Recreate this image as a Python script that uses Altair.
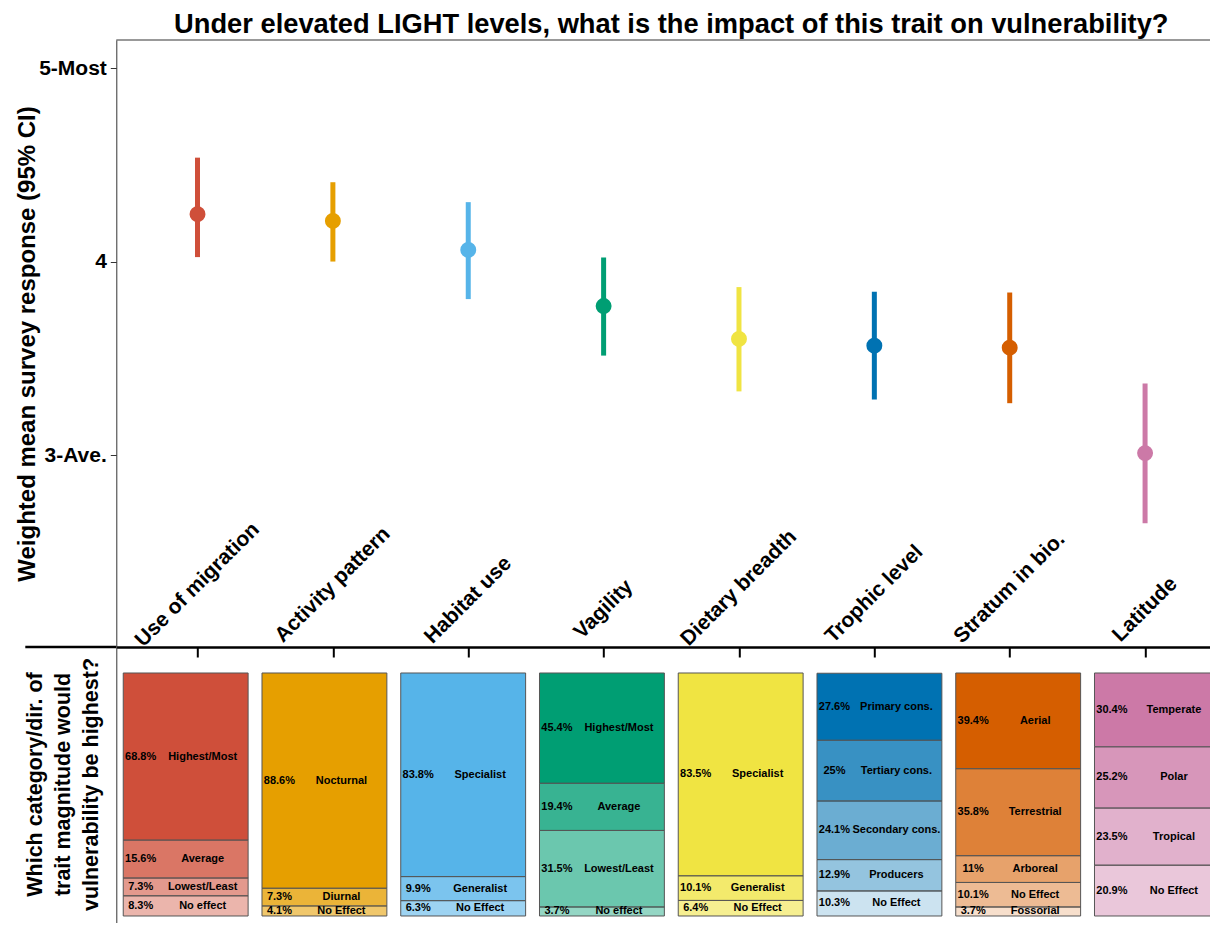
import altair as alt
import pandas as pd

FONT = "Liberation Sans"

# ---------------- data ----------------
traits = ["Use of migration", "Activity pattern", "Habitat use", "Vagility",
          "Dietary breadth", "Trophic level", "Stratum in bio.", "Latitude"]
trait_colors = ["#CF4F3A", "#E69F00", "#56B4E9", "#009E73",
                "#F0E442", "#0072B2", "#D55E00", "#CC79A7"]
mean_resp = [4.245, 4.21, 4.06, 3.77, 3.60, 3.565, 3.555, 3.01]
ci_low = [4.023, 4.00, 3.806, 3.514, 3.329, 3.287, 3.268, 2.648]
ci_high = [4.537, 4.41, 4.307, 4.021, 3.868, 3.844, 3.84, 3.37]

ytick_values = [3, 4, 5]
ytick_labels = ["3-Ave.", "4", "5-Most"]

# categories listed from top of bar to bottom
cat_migration = ["Highest/Most", "Average", "Lowest/Least", "No effect"]
pct_migration = [68.8, 15.6, 7.3, 8.3]
cat_activity = ["Nocturnal", "Diurnal", "No Effect"]
pct_activity = [88.6, 7.3, 4.1]
cat_habitat = ["Specialist", "Generalist", "No Effect"]
pct_habitat = [83.8, 9.9, 6.3]
cat_vagility = ["Highest/Most", "Average", "Lowest/Least", "No effect"]
pct_vagility = [45.4, 19.4, 31.5, 3.7]
cat_diet = ["Specialist", "Generalist", "No Effect"]
pct_diet = [83.5, 10.1, 6.4]
cat_trophic = ["Primary cons.", "Tertiary cons.", "Secondary cons.", "Producers", "No Effect"]
pct_trophic = [27.6, 25, 24.1, 12.9, 10.3]
cat_stratum = ["Aerial", "Terrestrial", "Arboreal", "No Effect", "Fossorial"]
pct_stratum = [39.4, 35.8, 11, 10.1, 3.7]
cat_latitude = ["Temperate", "Polar", "Tropical", "No Effect"]
pct_latitude = [30.4, 25.2, 23.5, 20.9]

all_cats = [cat_migration, cat_activity, cat_habitat, cat_vagility,
            cat_diet, cat_trophic, cat_stratum, cat_latitude]
all_pcts = [pct_migration, pct_activity, pct_habitat, pct_vagility,
            pct_diet, pct_trophic, pct_stratum, pct_latitude]

# shade of each segment (by position from top of the bar)
shade_by_rank = [1.0, 0.78, 0.58, 0.42, 0.2]

# ---------------- tables ----------------
df_top = pd.DataFrame({"trait": traits, "mean": mean_resp, "lo": ci_low, "hi": ci_high})

rows = []
for t, cats, pcts in zip(traits, all_cats, all_pcts):
    for r, (c, p) in enumerate(zip(cats, pcts)):
        rows.append({"trait": t, "cat": c, "pct": p, "rank": r, "shade": shade_by_rank[r]})
df_bars = pd.DataFrame(rows)
one = pd.DataFrame({"k": [0]})

W = 1110
H_TOP = 607
H_BOT = 300

label_expr = " : ".join(
    [f"datum.value == {v} ? '{l}'" for v, l in zip(ytick_values[:-1], ytick_labels[:-1])]
) + f" : '{ytick_labels[-1]}'"

x_top = alt.X("trait:N", sort=traits,
              scale=alt.Scale(type="point", domain=traits, padding=0.6),
              axis=alt.Axis(labels=False, title=None, ticks=True, tickSize=10,
                            tickWidth=2, tickColor="black", domainColor="black",
                            domainWidth=2.5, grid=False))
y_scale_top = alt.Scale(domain=[2.008, 5.145], nice=False, zero=False)
y_axis_top = alt.Axis(values=ytick_values, labelExpr=label_expr,
                      title="Weighted mean survey response (95% CI)",
                      titleFontSize=24, titleX=-82, titleBaseline="alphabetic",
                      labelFontSize=21, labelFontWeight="bold", labelColor="black",
                      labelPadding=4, tickSize=6, tickColor="#333",
                      domainColor="#333", grid=False)
color_enc = alt.Color("trait:N", scale=alt.Scale(domain=traits, range=trait_colors), legend=None)

base_top = alt.Chart(df_top)
err = base_top.mark_rule(strokeWidth=5).encode(
    x=x_top, y=alt.Y("lo:Q", scale=y_scale_top, axis=y_axis_top), y2="hi:Q", color=color_enc)
pts = base_top.mark_circle(size=254, opacity=1).encode(
    x=x_top, y=alt.Y("mean:Q", scale=y_scale_top, axis=y_axis_top), color=color_enc)
lbl = base_top.transform_calculate(
    label_y="2.074 + 0.01593 * length(datum.trait)"
).mark_text(angle=315, align="center", baseline="middle", fontSize=21,
            fontWeight="bold", font=FONT, color="black").encode(
    x=x_top, y=alt.Y("label_y:Q", scale=y_scale_top, axis=y_axis_top), text="trait:N")
frame_top = alt.Chart(one).mark_rule(color="#333", strokeWidth=1).encode(
    x=alt.value(0), x2=alt.value(W), y=alt.value(0))

top = alt.layer(err, pts, lbl, frame_top).properties(
    width=W, height=H_TOP,
    title=alt.TitleParams(
        "Under elevated LIGHT levels, what is the impact of this trait on vulnerability?",
        fontSize=27.3, fontWeight="bold", font=FONT, color="black", anchor="middle", offset=1),
)

# ---------------- bottom panel ----------------
x_bot = alt.X("trait:N", sort=traits,
              scale=alt.Scale(domain=traits, paddingInner=0.1, paddingOuter=0.05),
              axis=None)
y_scale_bot = alt.Scale(domain=[-12.76, 110.7], nice=False, zero=False)
y_axis_bot = alt.Axis(title=["Which category/dir. of", "trait magnitude would",
                             "vulnerability be highest?"],
                      labels=False, ticks=False, grid=False, domainColor="#333",
                      titleFontSize=21.5, titleX=-74.5, titleY=137,
                      titleBaseline="alphabetic", titleAlign="center",
                      titleLineHeight=28, titleAngle=270)

base_bot = alt.Chart(df_bars)
bars = base_bot.mark_bar(stroke="#555555", strokeWidth=1).encode(
    x=x_bot,
    y=alt.Y("pct:Q", stack="zero", scale=y_scale_bot, axis=y_axis_bot),
    color=color_enc,
    fillOpacity=alt.FillOpacity("shade:Q", scale=None, legend=None),
    order=alt.Order("rank:Q", sort="descending"),
)
stacked = base_bot.transform_stack(
    stack="pct", groupby=["trait"], as_=["y0", "y1"],
    sort=[alt.SortField("rank", order="descending")]
).transform_calculate(mid="(datum.y0 + datum.y1) / 2", pct_label="datum.pct + '%'")
pct_txt = stacked.mark_text(dx=-45, fontSize=11, fontWeight="bold", font=FONT,
                            color="black", baseline="middle").encode(
    x=x_bot, y=alt.Y("mid:Q", scale=y_scale_bot, axis=y_axis_bot), text="pct_label:N")
cat_txt = stacked.mark_text(dx=17, fontSize=11, fontWeight="bold", font=FONT,
                            color="black", baseline="middle").encode(
    x=x_bot, y=alt.Y("mid:Q", scale=y_scale_bot, axis=y_axis_bot), text="cat:N")
ext = alt.Chart(one).mark_rule(color="black", strokeWidth=2.5).encode(
    x=alt.value(-91), x2=alt.value(0), y=alt.value(0))

bottom = alt.layer(bars, pct_txt, cat_txt, ext).properties(width=W, height=H_BOT)

chart = alt.vconcat(top, bottom, spacing=0, bounds="flush").configure(
    padding={"left": 7.3, "top": 3, "right": -17, "bottom": -24},
    font=FONT,
).configure_view(stroke=None).configure_axis(
    labelFont=FONT, titleFont=FONT, titleFontWeight="bold", titleColor="black"
)

chart.save("out.html", embed_options={"renderer": "svg", "actions": False})
